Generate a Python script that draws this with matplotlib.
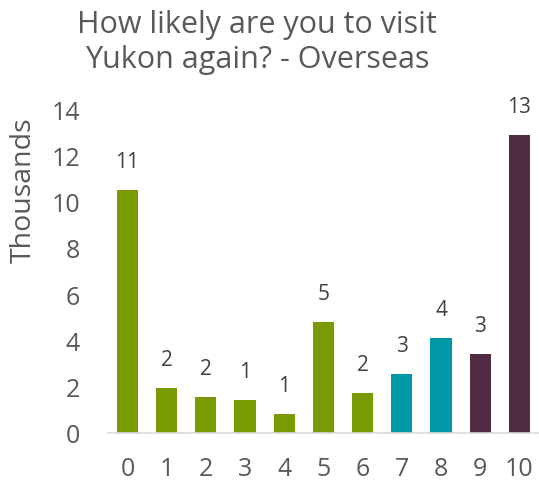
import matplotlib.pyplot as plt

# Likelihood score (0-10) and number of overseas visitors, in thousands
scores = ["0", "1", "2", "3", "4", "5", "6", "7", "8", "9", "10"]
visitors = [10.57, 1.96, 1.57, 1.43, 0.83, 4.83, 1.74, 2.57, 4.13, 3.43, 12.96]
groups = ["detractor"] * 7 + ["passive"] * 2 + ["promoter"] * 2

group_colors = {"detractor": "#7a9a01", "passive": "#0097a7", "promoter": "#512a44"}

plt.rcParams["font.family"] = ["Open Sans", "DejaVu Sans"]

fig = plt.figure(figsize=(5.39, 4.84), dpi=100)
ax = fig.add_axes([0.2, 0.105, 0.8, 0.666])

x = range(len(scores))
bars = ax.bar(x, visitors, width=0.54, color=[group_colors[g] for g in groups])

for xi, v in zip(x, visitors):
    ax.text(xi, v + 0.75, f"{v:.0f}", ha="center", va="bottom",
            fontsize=15, color="#404040")

ax.set_xlim(-0.5, 10.5)
ax.set_ylim(0, 14)
ax.set_yticks(range(0, 15, 2))
ax.set_xticks(list(x))
ax.set_xticklabels(scores)
ax.tick_params(axis="both", length=0, labelsize=18, colors="#595959")
ax.tick_params(axis="y", pad=20)
ax.tick_params(axis="x", pad=17)

for side in ["top", "right", "left"]:
    ax.spines[side].set_visible(False)
ax.spines["bottom"].set_color("#d9d9d9")
ax.spines["bottom"].set_linewidth(1.2)

ax.set_ylabel("Thousands", fontsize=20.5, color="#595959")
ax.yaxis.set_label_coords(-0.163, 0.755)
fig.text(0.477, 0.979, "How likely are you to visit\nYukon again? - Overseas",
         ha="center", va="top", fontsize=22, color="#595959", linespacing=1.2)

fig.savefig("out.png", dpi=100)
